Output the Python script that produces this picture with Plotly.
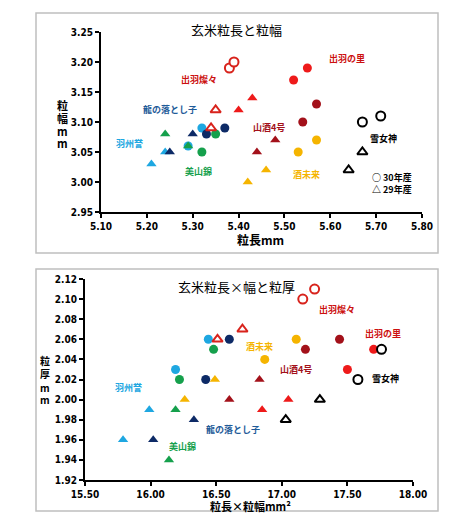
import plotly.graph_objects as go

# ---- data ----
VARIETIES = ["羽州誉", "美山錦", "龍の落とし子", "出羽燦々", "出羽の里", "山酒4号", "酒未来", "雪女神"]
COLORS = ["#1ea7e1", "#15a04c", "#0d2a66", "#d8231c", "#ee1a1a", "#a3111a", "#f5b400", "#000000"]
LABEL_COLORS = ["#1ea7e1", "#15a04c", "#1f5c99", "#cc1010", "#cc1010", "#a3111a", "#f5b400", "#000000"]
OPEN = [False, False, False, True, False, False, False, True]

# 粒長 / 粒幅  (30年産 = circles, 29年産 = triangles)
LEN_30 = [[5.32, 5.29], [5.35, 5.32], [5.37, 5.33], [5.38, 5.39], [5.55, 5.52], [5.57, 5.54], [5.57, 5.53], [5.71, 5.67]]
WID_30 = [[3.09, 3.06], [3.08, 3.05], [3.09, 3.08], [3.19, 3.20], [3.19, 3.17], [3.13, 3.10], [3.07, 3.05], [3.11, 3.10]]
LEN_29 = [[5.24, 5.21], [5.24, 5.29], [5.30, 5.25], [5.35, 5.34], [5.40, 5.43], [5.48, 5.44], [5.46, 5.42], [5.67, 5.64]]
WID_29 = [[3.05, 3.03], [3.08, 3.06], [3.08, 3.05], [3.12, 3.09], [3.12, 3.14], [3.07, 3.05], [3.02, 3.00], [3.05, 3.02]]

# 粒長×粒幅 / 粒厚
AREA_30 = [[16.44, 16.19], [16.48, 16.22], [16.60, 16.42], [17.16, 17.25], [17.70, 17.50], [17.44, 17.18], [17.11, 16.87], [17.76, 17.58]]
THK_30 = [[2.06, 2.03], [2.05, 2.02], [2.06, 2.02], [2.10, 2.11], [2.05, 2.03], [2.06, 2.05], [2.06, 2.04], [2.05, 2.02]]
AREA_29 = [[15.99, 15.79], [16.14, 16.19], [16.33, 16.02], [16.70, 16.51], [16.85, 17.05], [16.83, 16.60], [16.49, 16.26], [17.29, 17.03]]
THK_29 = [[1.99, 1.96], [1.94, 1.99], [1.98, 1.96], [2.07, 2.06], [1.99, 2.00], [2.02, 2.00], [2.02, 2.00], [2.00, 1.98]]

# label positions (data coords) for each variety
LBL_TOP = [(5.163, 3.065), (5.313, 3.018), (5.25, 3.12), (5.313, 3.17), (5.636, 3.205), (5.466, 3.09), (5.549, 3.012), (5.717, 3.072)]
LBL_BOT = [(15.83, 2.012), (16.24, 1.953), (16.63, 1.97), (17.42, 2.09), (17.77, 2.066), (17.11, 2.03), (16.83, 2.053), (17.79, 2.021)]

W, H = 449, 519
OFF = 8  # page body margin pushes the figure down/right
JP = "Noto Sans CJK JP"
TICKFONT = dict(family="DejaVu Sans Condensed, Liberation Sans Narrow, Liberation Sans", size=10,
                color="black", weight="bold")


def px(x):
    return (x - OFF) / W


def py(y):
    return 1 - (y - OFF) / H


fig = go.Figure()


def add_marks(xs, ys, color, is_open, symbol, xa, ya):
    if is_open:
        marker = dict(symbol=symbol, size=9, color="white", line=dict(color=color, width=2))
    else:
        marker = dict(symbol=symbol, size=9, color=color, line=dict(width=0))
    fig.add_trace(go.Scatter(x=xs, y=ys, mode="markers", marker=marker,
                             xaxis=xa, yaxis=ya, showlegend=False, hoverinfo="skip"))


for i, name in enumerate(VARIETIES):
    add_marks(LEN_30[i], WID_30[i], COLORS[i], OPEN[i], "circle", "x", "y")
    add_marks(LEN_29[i], WID_29[i], COLORS[i], OPEN[i], "triangle-up", "x", "y")
    add_marks(AREA_30[i], THK_30[i], COLORS[i], OPEN[i], "circle", "x2", "y2")
    add_marks(AREA_29[i], THK_29[i], COLORS[i], OPEN[i], "triangle-up", "x2", "y2")

axis_common = dict(showline=True, linecolor="black", linewidth=2, ticks="outside", ticklen=4,
                   tickwidth=2, tickcolor="black", showgrid=False, zeroline=False, automargin=False,
                   tickfont=TICKFONT, tickformat=".2f")

fig.update_layout(
    width=W, height=H, autosize=False,
    margin=dict(l=0, r=0, t=0, b=0, pad=0),
    paper_bgcolor="white", plot_bgcolor="white",
    xaxis=dict(axis_common, domain=[px(101), px(422)], range=[5.10, 5.80], dtick=0.1, anchor="y"),
    yaxis=dict(axis_common, domain=[py(212), py(32)], range=[2.95, 3.25], dtick=0.05, anchor="x"),
    xaxis2=dict(axis_common, domain=[px(85), px(413)], range=[15.5, 18.0], dtick=0.5, anchor="y2"),
    yaxis2=dict(axis_common, domain=[py(480), py(279)], range=[1.92, 2.12], dtick=0.02, anchor="x2"),
)

# chart borders
for y0, y1 in [(253, 13), (511, 269)]:
    fig.add_shape(type="rect", xref="paper", yref="paper", x0=px(36), x1=px(438), y0=py(y0), y1=py(y1),
                  line=dict(color="#bfbfbf", width=1.5))


def note(x, y, text, xref="paper", yref="paper", size=9, color="black", weight="bold", xanchor="center"):
    fig.add_annotation(x=x, y=y, xref=xref, yref=yref, text=text, showarrow=False,
                       xanchor=xanchor, yanchor="middle",
                       font=dict(family=JP, size=size, color=color, weight=weight))


# variety labels
for i, name in enumerate(VARIETIES):
    note(LBL_TOP[i][0], LBL_TOP[i][1], name, "x", "y", color=LABEL_COLORS[i])
    note(LBL_BOT[i][0], LBL_BOT[i][1], name, "x2", "y2", color=LABEL_COLORS[i])

# year legend
note(5.686, 3.008, "○ 30年産", "x", "y", xanchor="left")
note(5.686, 2.988, "△ 29年産", "x", "y", xanchor="left")

# titles
note(px(236), py(30), "玄米粒長と粒幅", size=13, weight="normal")
note(px(236), py(286), "玄米粒長×幅と粒厚", size=13, weight="normal")
note(px(260), py(239), "粒長mm", size=12)
note(px(250), py(506), "粒長×粒幅mm²", size=11)

# vertical y titles, one character per line
for ch, yy in zip("粒幅mm", [105, 118, 131, 143]):
    note(px(62), py(yy), ch, size=11)
for ch, yy in zip("粒厚mm", [360, 373, 387, 399]):
    note(px(45), py(yy), ch, size=10)

fig.write_html("out.html")
